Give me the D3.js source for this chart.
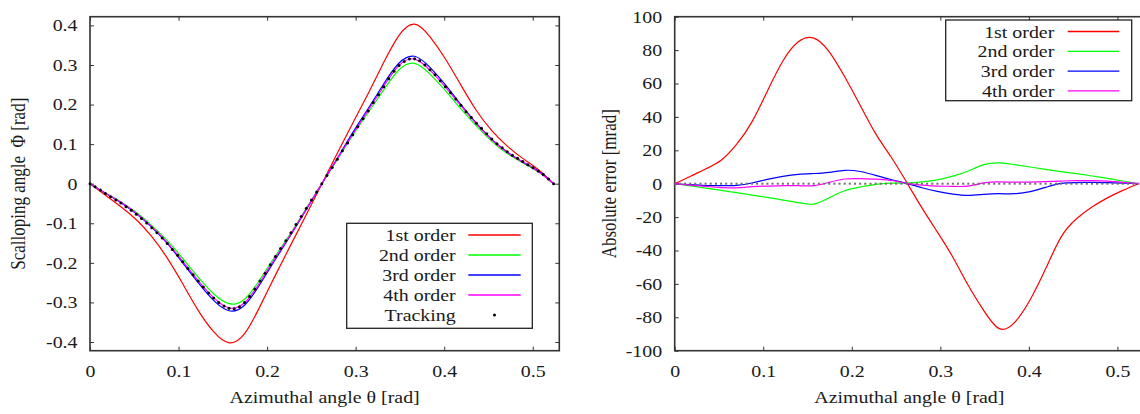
<!DOCTYPE html>
<html>
<head>
<meta charset="utf-8">
<script src="https://cdn.jsdelivr.net/npm/d3@7"></script>
<style>
  body { margin: 0; background: #fff; }
  svg { display: block; }
</style>
</head>
<body>
<script>
// ---- data (angles in degrees, scalloping in rad, errors in mrad) ----
const seriesNames = ['1st order', '2nd order', '3rd order', '4th order'];
const seriesColors = ['#ff0000', '#00ff00', '#0000ff', '#ff00ff'];

const orderDeg = [0,1,2,3,4,5,6,7,8,9,10,11,12,13,14,15,16,17,18,19,20,21,22,23,24,25,26,27,28,29,30];

const scallop1 = [0,-0.029,-0.058,-0.091,-0.134,-0.188,-0.253,-0.320,-0.374,-0.402,-0.379,-0.310,-0.231,-0.154,-0.078,-0.001,
  0.077,0.153,0.228,0.306,0.375,0.403,0.371,0.315,0.249,0.185,0.134,0.095,0.064,0.036,0];
const scallop2 = [0,-0.024,-0.046,-0.073,-0.106,-0.144,-0.189,-0.236,-0.278,-0.303,-0.292,-0.242,-0.182,-0.124,-0.062,0,
  0.061,0.122,0.180,0.237,0.288,0.304,0.277,0.235,0.189,0.146,0.107,0.076,0.053,0.030,0];
const scallop3 = [0,-0.024,-0.048,-0.076,-0.110,-0.151,-0.200,-0.250,-0.295,-0.321,-0.307,-0.254,-0.191,-0.129,-0.065,0,
  0.064,0.129,0.190,0.252,0.305,0.322,0.294,0.250,0.200,0.153,0.112,0.080,0.055,0.032,0];
const scallop4 = [0,-0.024,-0.047,-0.075,-0.109,-0.149,-0.196,-0.245,-0.288,-0.314,-0.301,-0.249,-0.187,-0.127,-0.064,0,
  0.063,0.125,0.186,0.246,0.299,0.315,0.287,0.244,0.197,0.151,0.111,0.079,0.055,0.031,0];

const error1 = [0,4.3,8.8,14,23.5,37,55.5,73.5,85,87.2,79,64,47,30,16,1,-14.5,-29,-44,-61,-76,-86.8,-83,-69.5,-51,-32,-21,-14,-8.5,-4,0];
const error2 = [0,-1.3,-2.6,-4,-5.4,-6.8,-8.2,-9.8,-11.3,-12.2,-8.4,-4.2,-2,-0.4,0.3,0.4,1.1,2.3,4.5,7.6,11.4,12.5,11.4,10,8.6,7.2,6,4.6,3.2,1.6,0];
const error3 = [0,-0.6,-1.1,-1.2,-1,0.4,2.6,4.4,5.6,6.1,6.8,8,7.3,5,2.5,0.2,-2.4,-4.6,-6.2,-7,-6.4,-6,-6,-4.7,-2.2,0.2,0.7,0.8,0.6,0.3,0];
const error4 = [0,-0.9,-1.6,-2.3,-2.5,-1.8,-1.4,-1.2,-1.2,-1.2,0.8,2.8,3,2.7,1.9,0.2,-0.8,-1.4,-1.6,-1.4,0.5,1.1,0.9,1,1.3,1.6,1.8,1.8,1.5,0.8,0];

const trackDeg = [0,0.33,0.67,1,1.33,1.67,2,2.33,2.67,3,3.33,3.67,4,4.33,4.67,5,5.33,5.67,6,6.33,6.67,7,7.33,7.67,8,8.33,8.67,9,9.33,9.67,
  10,10.33,10.67,11,11.33,11.67,12,12.33,12.67,13,13.33,13.67,14,14.33,14.67,15,15.33,15.67,16,16.33,16.67,17,17.33,17.67,18,18.33,18.67,19,19.33,19.67,
  20,20.33,20.67,21,21.33,21.67,22,22.33,22.67,23,23.33,23.67,24,24.33,24.67,25,25.33,25.67,26,26.33,26.67,27,27.33,27.67,28,28.33,28.67,29,29.33,29.67,30];
const tracking = [0,-0.008,-0.016,-0.025,-0.033,-0.041,-0.049,-0.058,-0.067,-0.077,-0.088,-0.099,-0.111,-0.124,-0.137,-0.151,-0.166,-0.181,-0.197,-0.214,-0.230,
  -0.246,-0.261,-0.276,-0.289,-0.300,-0.309,-0.315,-0.316,-0.311,-0.300,-0.285,-0.266,-0.246,-0.226,-0.205,-0.184,-0.164,-0.144,-0.124,-0.103,-0.083,
  -0.062,-0.041,-0.021,0,0.021,0.041,0.062,0.083,0.103,0.124,0.144,0.164,0.184,0.205,0.225,0.245,0.265,0.284,0.299,0.309,0.315,0.316,0.311,0.300,
  0.288,0.275,0.260,0.245,0.230,0.214,0.198,0.182,0.167,0.153,0.140,0.126,0.113,0.101,0.091,0.081,0.072,0.064,0.056,0.048,0.040,0.032,0.023,0.012,0];

const xTicks = [0, 0.1, 0.2, 0.3, 0.4, 0.5];
const yTicksLeft = [-0.4, -0.3, -0.2, -0.1, 0, 0.1, 0.2, 0.3, 0.4];
const yTicksRight = [-100, -80, -60, -40, -20, 0, 20, 40, 60, 80, 100];

// ---- drawing ----
const SX = 1.17;   // glyphs in the original are a little wider than plain Times
const FONT = '"Liberation Serif", "Times New Roman", serif';
const rad = (d) => d * Math.PI / 180;

const svg = d3.select('body').append('svg').attr('width', 1140).attr('height', 414);

const label = (g, x, y, str, anchor, rotated) => {
    const t = g.append('text')
        .attr('font-family', FONT).attr('font-size', 17).attr('fill', '#1a1a1a')
        .attr('text-anchor', anchor).style('white-space', 'pre').text(str);
    t.attr('transform', rotated
        ? `translate(${x},${y}) rotate(-90) scale(1,${SX})`
        : `translate(${x},${y}) scale(${SX},1)`);
    return t;
};

const panel = ({x0, x1, y0, y1, yDomain, yTicks, yFormat, yTitle, yTitleX}) => {
    const g = svg.append('g');
    const x = d3.scaleLinear().domain([0, 0.53]).range([x0, x1]);
    const y = d3.scaleLinear().domain(yDomain).range([y1, y0]);
    const xFmt = (d) => d === 0 ? '0' : d.toFixed(1);

    const styleAxis = (a) => {
        a.select('.domain').remove();
        a.selectAll('.tick line').attr('stroke', '#333');
        a.attr('font-family', FONT).attr('font-size', 17);
        a.selectAll('text').attr('fill', '#1a1a1a');
    };

    const gb = g.append('g').attr('transform', `translate(0,${y1})`)
        .call(d3.axisBottom(x).tickValues(xTicks).tickSizeInner(-4).tickSizeOuter(0).tickPadding(14).tickFormat(xFmt));
    styleAxis(gb);
    gb.selectAll('text').attr('transform', function () {
        return `translate(0,${this.getAttribute('y')}) scale(${SX},1)`;
    }).attr('y', 0);

    const gl = g.append('g').attr('transform', `translate(${x0},0)`)
        .call(d3.axisLeft(y).tickValues(yTicks).tickSizeInner(-4).tickSizeOuter(0).tickPadding(12.5).tickFormat(yFormat));
    styleAxis(gl);
    gl.selectAll('text').attr('transform', function () {
        return `translate(${this.getAttribute('x')},0) scale(${SX},1)`;
    }).attr('x', 0);

    const gt = g.append('g').attr('transform', `translate(0,${y0})`)
        .call(d3.axisTop(x).tickValues(xTicks).tickSizeInner(-4).tickSizeOuter(0).tickFormat(''));
    styleAxis(gt);
    const gr = g.append('g').attr('transform', `translate(${x1},0)`)
        .call(d3.axisRight(y).tickValues(yTicks).tickSizeInner(-4).tickSizeOuter(0).tickFormat(''));
    styleAxis(gr);

    g.append('rect').attr('x', x0).attr('y', y0).attr('width', x1 - x0).attr('height', y1 - y0)
        .attr('fill', 'none').attr('stroke', '#333').attr('stroke-width', 1.6);

    label(g, (x0 + x1) / 2, 403, 'Azimuthal angle \u03b8 [rad]', 'middle', false);
    label(g, yTitleX, (y0 + y1) / 2, yTitle, 'middle', true);

    return {g, x, y};
};

const drawSeries = (g, x, y, vals, color) => {
    const gen = d3.line().x((d) => x(rad(d))).y((d, i) => y(vals[i])).curve(d3.curveNatural);
    g.append('path').datum(orderDeg).attr('d', gen)
        .attr('fill', 'none').attr('stroke', color).attr('stroke-width', 1.2);
};

// left panel: scalloping angle
const L = panel({
    x0: 90, x1: 559.3, y0: 16.7, y1: 350.7,
    yDomain: [-0.422, 0.422], yTicks: yTicksLeft,
    yFormat: (d) => d === 0 ? '0' : d.toFixed(1),
    yTitle: 'Scalloping angle  \u03a6 [rad]', yTitleX: 25
});
[scallop1, scallop2, scallop3, scallop4].forEach((s, i) => drawSeries(L.g, L.x, L.y, s, seriesColors[i]));
L.g.selectAll('circle.track').data(trackDeg).enter().append('circle').attr('class', 'track')
    .attr('cx', (d) => L.x(rad(d))).attr('cy', (d, i) => L.y(tracking[i]))
    .attr('r', 1.5).attr('fill', '#000');

// right panel: absolute error
const R = panel({
    x0: 674.7, x1: 1144, y0: 16.7, y1: 350.7,
    yDomain: [-100, 100], yTicks: yTicksRight,
    yFormat: (d) => String(d),
    yTitle: 'Absolute error [mrad]', yTitleX: 615.5
});
[error1, error2, error3, error4].forEach((s, i) => drawSeries(R.g, R.x, R.y, s, seriesColors[i]));
// tracking is the reference, its own error is zero
R.g.selectAll('rect.track').data(trackDeg).enter().append('rect').attr('class', 'track')
    .attr('x', (d) => R.x(rad(d)) - 1).attr('y', R.y(0) - 1)
    .attr('width', 2).attr('height', 2).attr('fill', '#6f6f6f');

// legends
const legend = (g, box, rowY, rowGap, textX, lx0, lx1, withTrack) => {
    g.append('rect').attr('x', box[0]).attr('y', box[1]).attr('width', box[2] - box[0]).attr('height', box[3] - box[1])
        .attr('fill', '#fff').attr('stroke', '#222').attr('stroke-width', 1.3);
    seriesNames.forEach((n, i) => {
        const yy = rowY + i * rowGap;
        label(g, textX, yy + 6, n, 'end', false);
        g.append('path').attr('d', `M${lx0},${yy}H${lx1}`)
            .attr('fill', 'none').attr('stroke', seriesColors[i]).attr('stroke-width', 1.3);
    });
    if (withTrack) {
        const yy = rowY + seriesNames.length * rowGap;
        label(g, textX, yy + 6, 'Tracking', 'end', false);
        g.append('circle').attr('cx', (lx0 + lx1) / 2).attr('cy', yy).attr('r', 1.5).attr('fill', '#000');
    }
};
legend(L.g, [346.7, 223.3, 532.3, 328.3], 235, 20, 455.7, 468.3, 520.7, true);
legend(R.g, [945.7, 20, 1131.7, 100.7], 31.5, 19.8, 1054.3, 1067.7, 1119.3, false);
</script>
</body>
</html>
